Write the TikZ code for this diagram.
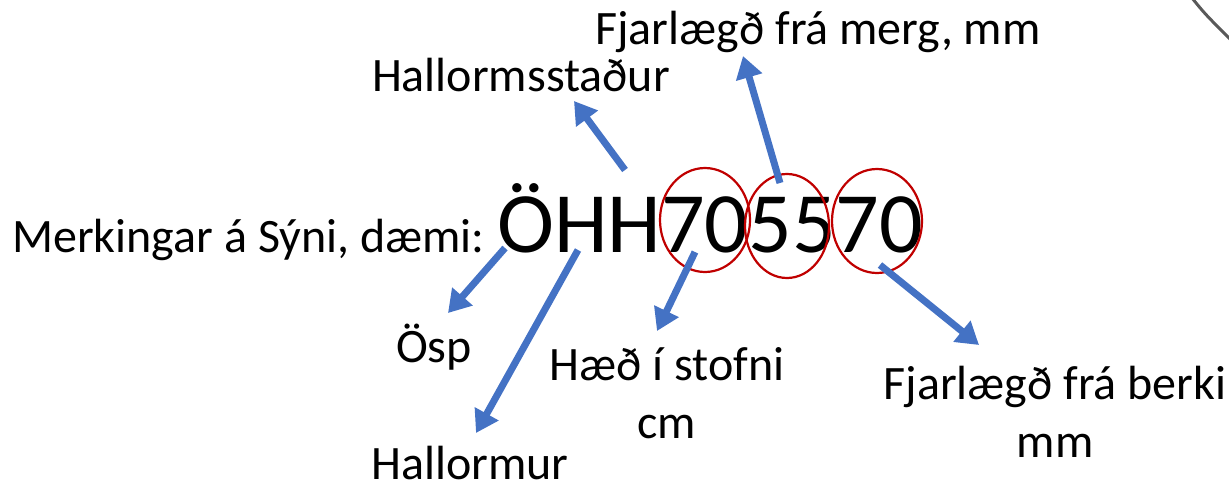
\documentclass[tikz,border=0pt]{standalone}
\usepackage{fontspec}
\setmainfont{Carlito}
\usetikzlibrary{arrows.meta}
\definecolor{arrowblue}{HTML}{4472C4}
\definecolor{circred}{HTML}{C00000}
\begin{document}
\begin{tikzpicture}[x=1pt,y=-1pt,
  lbl/.style={font=\fontsize{48}{58}\selectfont, inner sep=0pt, anchor=base},
  big/.style={font=\fontsize{86}{100}\selectfont, inner sep=0pt, anchor=base},
  barrow/.style={draw=arrowblue, line width=7pt, -{Triangle[width=26pt,length=22pt]}},
  ring/.style={draw=circred, line width=2.2pt}]
\useasboundingbox (0,0) rectangle (1229,483);
% labels
\node[lbl] (merg) at (818,44) {Fjarlægð frá merg, mm};
\node[lbl] (hst) at (521,91) {Hallormsstaður};
\node[lbl, anchor=base west] (merk) at (12,252) {Merkingar á Sýni, dæmi:};
\node[big, anchor=base west] (code) at (497,252) {ÖHH705570};
\node[lbl] (osp) at (434,362) {Ösp};
\node[lbl, align=center] (haed) at (667,438) {Hæð í stofni\\cm};
\node[lbl] (hmur) at (470,479) {Hallormur};
\node[lbl, align=center] (berki) at (1055,457) {Fjarlægð frá berki\\mm};
% circles
\draw[ring] (705,220) ellipse [x radius=45, y radius=52];
\draw[ring] (787,226) ellipse [x radius=42, y radius=52];
\draw[ring] (877,221) ellipse [x radius=45, y radius=52];
% arrow ends
\coordinate (t1) at (625,170); \coordinate (h1) at (574,101);
\coordinate (t2) at (780,183); \coordinate (h2) at (743,56);
\coordinate (t3) at (505,248); \coordinate (h3) at (448,313);
\coordinate (t4) at (578,250); \coordinate (h4) at (476,433);
\coordinate (t5) at (695,252); \coordinate (h5) at (657,331);
\coordinate (t6) at (880,265); \coordinate (h6) at (979,345);
\draw[barrow] (t1) -- (h1);
\draw[barrow] (t2) -- (h2);
\draw[barrow] (t3) -- (h3);
\draw[barrow] (t4) -- (h4);
\draw[barrow] (t5) -- (h5);
\draw[barrow] (t6) -- (h6);
% corner curve
\coordinate (c1) at (1192,-2); \coordinate (c2) at (1231,40);
\draw[draw=black!65, line width=3pt] (c1) .. controls (1205,14) .. (c2);
\end{tikzpicture}
\end{document}
